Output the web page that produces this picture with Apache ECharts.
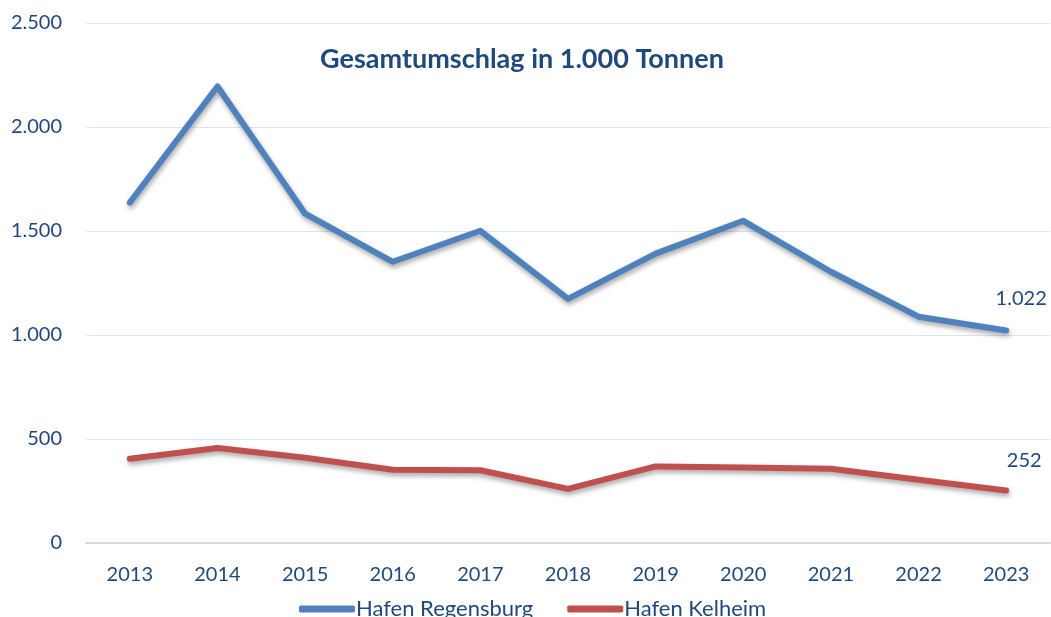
<!DOCTYPE html>
<html>
<head>
    <meta charset="utf-8">
    <title>Gesamtumschlag</title>
    <script src="https://cdn.jsdelivr.net/npm/echarts@6/dist/echarts.min.js"></script>
    <style>
        body { margin: 0; background: #fff; }
    </style>
</head>
<body>
<div id="main" style="width: 1051px;height:617px;"></div>

<script type="text/javascript">
    // Jahre und Werte (in 1.000 Tonnen)
    var years = ['2013', '2014', '2015', '2016', '2017', '2018', '2019', '2020', '2021', '2022', '2023'];
    var regensburg = [1637, 2195, 1583, 1352, 1501, 1174, 1391, 1549, 1304, 1088, 1022];
    var kelheim = [405, 457, 410, 352, 350, 260, 368, 363, 357, 304, 252];
    var seriesNames = ['Hafen Regensburg', 'Hafen Kelheim'];

    var textColor = '#1f497d';
    var font = 'Lato, "Open Sans", sans-serif';

    // Tausenderpunkt wie im Original
    function fmt(v) {
        return String(Math.round(v)).replace(/\B(?=(\d{3})+(?!\d))/g, '.');
    }

    // nur den letzten Punkt beschriften
    function withEndLabel(arr, offsetX, dist) {
        return arr.map(function (v, i) {
            if (i !== arr.length - 1) return v;
            return {
                value: v,
                label: {
                    show: true, position: 'top', distance: dist, offset: [offsetX, 0],
                    formatter: function (p) { return fmt(p.value); },
                    color: textColor, fontSize: 20, fontFamily: font
                }
            };
        });
    }

    var myChart = echarts.init(document.getElementById('main'));

    var option = {
        backgroundColor: '#fff',
        animation: false,
        title: {
            text: 'Gesamtumschlag in 1.000 Tonnen',
            left: 517, top: 41, textAlign: 'center',
            textStyle: { color: textColor, fontSize: 27, fontWeight: 'bold', fontFamily: font }
        },
        legend: {
            data: seriesNames,
            bottom: -8, left: 294,
            itemWidth: 56, itemHeight: 7, itemGap: 34,
            icon: 'roundRect',
            textStyle: { color: textColor, fontSize: 22, fontFamily: font, padding: [0, 0, 0, -4] }
        },
        grid: { left: 86, right: 1, top: 23, bottom: 74 },
        xAxis: {
            type: 'category',
            data: years,
            boundaryGap: true,
            axisLine: { lineStyle: { color: '#d9d9d9', width: 2 } },
            axisTick: { show: false },
            axisLabel: { color: textColor, fontSize: 20, fontFamily: font, margin: 22 }
        },
        yAxis: {
            type: 'value',
            min: 0, max: 2500, interval: 500,
            axisLine: { show: false },
            axisTick: { show: false },
            splitLine: { lineStyle: { color: '#dce6f2', width: 1 } },
            axisLabel: { color: textColor, fontSize: 20, fontFamily: font, margin: 24, formatter: fmt }
        },
        series: [{
            name: seriesNames[0],
            type: 'line',
            data: withEndLabel(regensburg, 15, 22),
            symbol: 'circle', symbolSize: 0, showSymbol: true,
            itemStyle: { color: '#4f81bd' },
            lineStyle: {
                color: '#4f81bd', width: 6, cap: 'round', join: 'round',
                shadowColor: 'rgba(0,0,0,0.35)', shadowBlur: 5, shadowOffsetX: 1, shadowOffsetY: 3
            }
        }, {
            name: seriesNames[1],
            type: 'line',
            data: withEndLabel(kelheim, 18, 20),
            symbol: 'circle', symbolSize: 0, showSymbol: true,
            itemStyle: { color: '#c0504d' },
            lineStyle: {
                color: '#c0504d', width: 6, cap: 'round', join: 'round',
                shadowColor: 'rgba(0,0,0,0.35)', shadowBlur: 5, shadowOffsetX: 1, shadowOffsetY: 3
            }
        }]
    };

    myChart.setOption(option);
</script>
</body>
</html>
